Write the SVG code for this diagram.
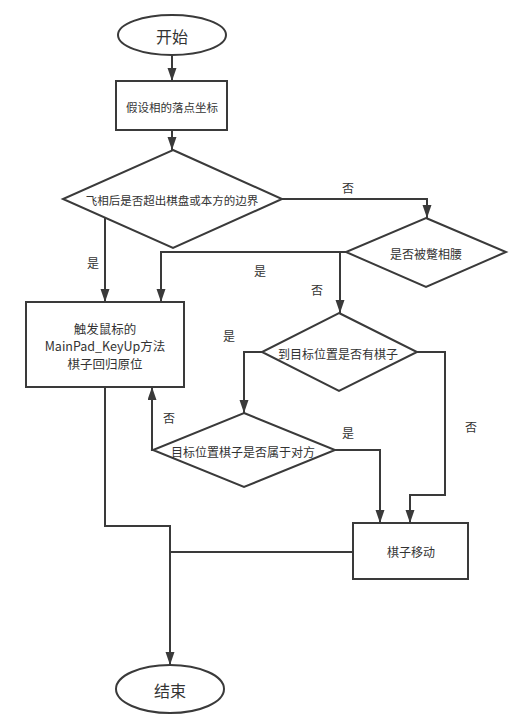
<svg xmlns="http://www.w3.org/2000/svg" width="526" height="722" viewBox="0 0 526 722">
<style>
.shape{fill:#ffffff;stroke:#3a3a3a;stroke-width:2}
.line{fill:none;stroke:#3a3a3a;stroke-width:2}
text{font-family:"Noto Sans CJK SC","Noto Sans",sans-serif;fill:#333333;text-anchor:middle;dominant-baseline:central}
.t12{font-size:12px}
.t11{font-size:11.5px}
.t13{font-size:12.5px}
.t16{font-size:16px}
</style>
<defs>
<marker id="arr" markerUnits="userSpaceOnUse" markerWidth="13" markerHeight="10" refX="13" refY="4.5" orient="auto">
<path d="M0,0 L13,4.5 L0,9 z" fill="#3a3a3a"/>
</marker>
</defs>
<rect width="526" height="722" fill="#ffffff"/>
<g id="connectors">
<path class="line" d="M172,55 V81" marker-end="url(#arr)"/>
<path class="line" d="M172,130 V150" marker-end="url(#arr)"/>
<path class="line" d="M282,199 H427 V218" marker-end="url(#arr)"/>
<path class="line" d="M105,218 V302" marker-end="url(#arr)"/>
<path class="line" d="M346,252 H161 V302" marker-end="url(#arr)"/>
<path class="line" d="M340,252 V313" marker-end="url(#arr)"/>
<path class="line" d="M262,352 H244 V413" marker-end="url(#arr)"/>
<path class="line" d="M153,450 H152 V387" marker-end="url(#arr)"/>
<path class="line" d="M335,450 H380 V523" marker-end="url(#arr)"/>
<path class="line" d="M417,352 H445 V495 H410 V523" marker-end="url(#arr)"/>
<path class="line" d="M105,387 V526 H170 V665" marker-end="url(#arr)"/>
<path class="line" d="M353,552 H170"/>
<text class="t12" x="348" y="187">否</text>
<text class="t12" x="93" y="262">是</text>
<text class="t12" x="260" y="270">是</text>
<text class="t12" x="317" y="289">否</text>
<text class="t12" x="229" y="335">是</text>
<text class="t12" x="169" y="417">否</text>
<text class="t12" x="348" y="432">是</text>
<text class="t12" x="471" y="426">否</text>
</g>
<g id="start">
<ellipse class="shape" cx="172" cy="35" rx="54" ry="20"/>
<text class="t16" x="172" y="36">开始</text>
</g>
<g id="assume">
<rect class="shape" x="116" y="81" width="111" height="49"/>
<text class="t11" x="172" y="107">假设相的落点坐标</text>
</g>
<g id="d-boundary">
<path class="shape" d="M173,150 L282,199 L173,248 L63,199 Z"/>
<text class="t11" x="172" y="200">飞相后是否超出棋盘或本方的边界</text>
</g>
<g id="d-waist">
<path class="shape" d="M426,218 L506,252 L426,287 L346,252 Z"/>
<text class="t12" x="426" y="253">是否被蹩相腰</text>
</g>
<g id="reset">
<rect class="shape" x="26" y="302" width="158" height="85"/>
<text class="t13" x="105" y="328">触发鼠标的</text>
<text class="t13" x="105" y="345.5">MainPad_KeyUp方法</text>
<text class="t13" x="105" y="363">棋子回归原位</text>
</g>
<g id="d-target">
<path class="shape" d="M339,313 L417,352 L339,391 L262,352 Z"/>
<text class="t12" x="338" y="353">到目标位置是否有棋子</text>
</g>
<g id="d-enemy">
<path class="shape" d="M244,413 L335,450 L244,487 L153,450 Z"/>
<text class="t12" x="243" y="451">目标位置棋子是否属于对方</text>
</g>
<g id="move">
<rect class="shape" x="353" y="523" width="115" height="56"/>
<text class="t12" x="411" y="551">棋子移动</text>
</g>
<g id="end">
<ellipse class="shape" cx="170" cy="689" rx="54" ry="24"/>
<text class="t16" x="170" y="690">结束</text>
</g>
</svg>
